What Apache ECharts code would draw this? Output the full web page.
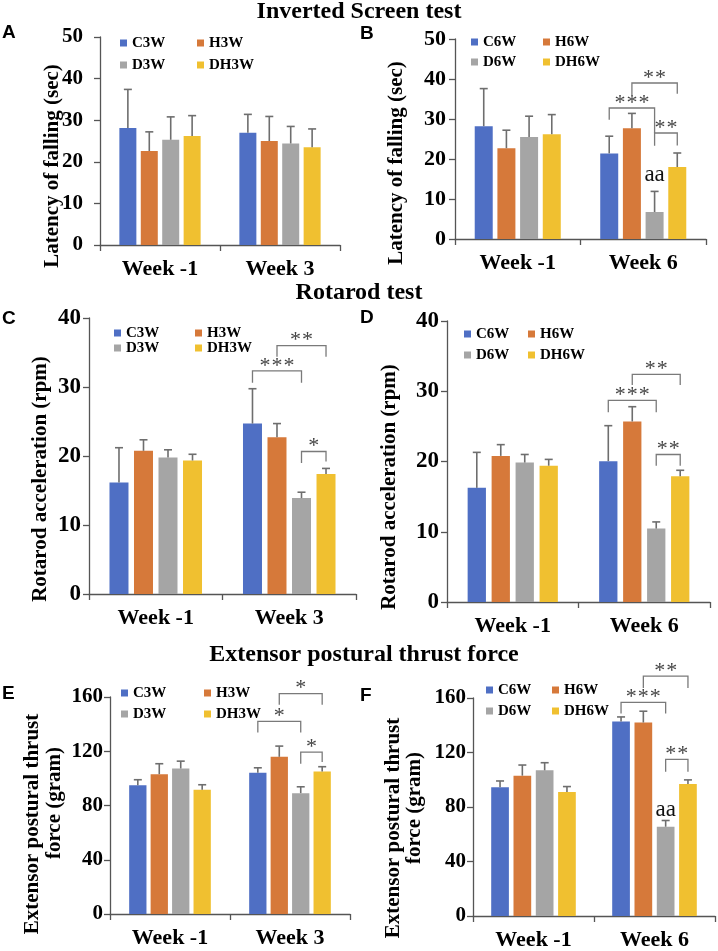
<!DOCTYPE html>
<html><head><meta charset="utf-8">
<script src="https://cdn.jsdelivr.net/npm/echarts@6/dist/echarts.min.js"></script>
<style>html,body{margin:0;padding:0;background:#fff}#main{width:718px;height:951px}</style>
</head><body><div id="main"></div>
<script>
// ---------- data ----------
const weeks3 = ['Week -1', 'Week 3'];
const weeks6 = ['Week -1', 'Week 6'];
const groups3 = ['C3W', 'H3W', 'D3W', 'DH3W'];
const groups6 = ['C6W', 'H6W', 'D6W', 'DH6W'];
const yTicksInv = [0, 10, 20, 30, 40, 50];
const yTicksRot = [0, 10, 20, 30, 40];
const yTicksExt = [0, 40, 80, 120, 160];

// A: Inverted screen, week -1 / week 3  (mean per group, SEM per group)
const A_mean = [[28.1, 27.0], [22.6, 25.0], [25.3, 24.4], [26.2, 23.5]];
const A_err  = [[9.3, 4.4], [4.6, 5.9], [5.5, 4.1], [4.9, 4.4]];
// B: Inverted screen, week -1 / week 6
const B_mean = [[28.2, 21.4], [22.7, 27.7], [25.5, 6.75], [26.2, 18.0]];
const B_err  = [[9.4, 4.3], [4.5, 3.7], [5.2, 5.15], [4.9, 3.5]];
// C: Rotarod, week -1 / week 3
const C_mean = [[16.15, 24.7], [20.75, 22.7], [19.8, 13.9], [19.35, 17.4]];
const C_err  = [[5.05, 5.05], [1.6, 2.0], [1.1, 0.85], [0.9, 0.8]];
// D: Rotarod, week -1 / week 6
const D_mean = [[16.25, 20.05], [20.8, 25.7], [19.85, 10.45], [19.4, 17.9]];
const D_err  = [[5.05, 5.05], [1.6, 2.1], [1.15, 0.95], [0.9, 0.85]];
// E: Extensor postural thrust, week -1 / week 3
const E_mean = [[95.0, 104.1], [103.1, 115.9], [107.3, 89.1], [91.6, 105.1]];
const E_err  = [[4.0, 3.7], [7.7, 7.9], [5.4, 4.7], [3.7, 3.5]];
// F: Extensor postural thrust, week -1 / week 6
const F_mean = [[94.5, 142.7], [103.0, 142.0], [106.9, 65.5], [91.1, 96.9]];
const F_err  = [[4.6, 3.4], [7.8, 8.3], [5.6, 4.6], [3.9, 3.0]];

// significance brackets: [category, fromGroup, toGroup, lineValue, leftLegValue, rightLegValue, stars]
const B_brk = [[1, 0, 2, 32.75, 29.8, 26.5, 3], [1, 1, 3, 39.0, 36.0, 36.3, 2], [1, 2, 3, 26.5, 23.3, 23.4, 2]];
const C_brk = [[1, 0, 2, 32.35, 30.6, 30.6, 3], [1, 1, 3, 36.0, 34.4, 34.4, 2], [1, 2, 3, 20.65, 19.0, 19.2, 1]];
const D_brk = [[1, 0, 2, 28.7, 27.0, 27.0, 3], [1, 1, 3, 32.4, 30.9, 30.9, 2], [1, 2, 3, 21.0, 19.4, 19.4, 2]];
const E_brk = [[1, 1, 3, 162.5, 154.3, 154.3, 1], [1, 0, 2, 142.0, 133.9, 133.9, 1], [1, 2, 3, 119.4, 110.8, 112.0, 1]];
const F_brk = [[1, 1, 3, 176.1, 167.3, 167.3, 2], [1, 0, 2, 156.8, 148.6, 148.6, 3], [1, 2, 3, 114.9, 105.9, 105.9, 2]];
// text marks: [category, group, value, text]
const B_marks = [[1, 2, 15.6, 'aa']];
const F_marks = [[1, 2, 76.5, 'aa']];

// ---------- styling / layout ----------
const colors = ['#4F6FC4', '#D6793A', '#A5A5A5', '#F0C030'];
const SERIF = '"Liberation Serif","Times New Roman",serif';
const panels = [
  {cats: weeks3, names: groups3, ticks: yTicksInv, mean: A_mean, err: A_err, brk: [], marks: [],
   grid: {left: 100, top: 37, width: 240, height: 208}, bw: 17, gap: 0.26, tf: 21, tm: 17,
   leg: [[120, 43], [197, 43], [120, 65], [197, 65]]},
  {cats: weeks6, names: groups6, ticks: yTicksInv, mean: B_mean, err: B_err, brk: B_brk, marks: B_marks,
   grid: {left: 455, top: 39, width: 251, height: 200}, bw: 18, gap: 0.26, tf: 22, tm: 9,
   leg: [[471, 42], [543, 42], [471, 62], [543, 62]]},
  {cats: weeks3, names: groups3, ticks: yTicksRot, mean: C_mean, err: C_err, brk: C_brk, marks: [],
   grid: {left: 89, top: 318, width: 267, height: 276}, bw: 19, gap: 0.29, tf: 23, tm: 8,
   leg: [[114, 333], [195, 333], [114, 348], [195, 348]]},
  {cats: weeks6, names: groups6, ticks: yTicksRot, mean: D_mean, err: D_err, brk: D_brk, marks: [],
   grid: {left: 447, top: 321, width: 263, height: 281}, bw: 18.3, gap: 0.31, tf: 23, tm: 8,
   leg: [[464, 334], [528, 334], [464, 355], [528, 355]]},
  {cats: weeks3, names: groups3, ticks: yTicksExt, mean: E_mean, err: E_err, brk: E_brk, marks: [],
   grid: {left: 110, top: 697, width: 240, height: 217}, bw: 17.3, gap: 0.24, tf: 21, tm: 7,
   leg: [[121, 693], [204, 693], [121, 714], [204, 714]]},
  {cats: weeks6, names: groups6, ticks: yTicksExt, mean: F_mean, err: F_err, brk: F_brk, marks: F_marks,
   grid: {left: 473, top: 698, width: 242, height: 219}, bw: 17.7, gap: 0.26, tf: 21, tm: 7,
   leg: [[486, 690], [552, 690], [486, 711], [552, 711]]}
];

function barCenter(api, cat, idx, p) {
  const w = p.bw, g = p.gap;
  const sum = 4 * w * (1 + g) - w * g;
  const base = api.coord([cat, 0])[0];
  return base - sum / 2 + idx * w * (1 + g) + w / 2;
}

const grids = [], xAxes = [], yAxes = [], series = [], legends = [];
const axisCol = '#555555';
panels.forEach((p, i) => {
  grids.push(Object.assign({}, p.grid));
  xAxes.push({
    type: 'category', gridIndex: i, data: p.cats,
    axisLine: {lineStyle: {color: axisCol, width: 1.3}},
    axisTick: {show: true, length: 6, lineStyle: {color: axisCol, width: 1.3}},
    axisLabel: {fontFamily: 'Liberation Serif', fontWeight: 'bold', fontSize: 22, color: '#000', margin: 13}
  });
  const tk = p.ticks;
  yAxes.push({
    type: 'value', gridIndex: i, min: tk[0], max: tk[tk.length - 1], interval: tk[1] - tk[0],
    axisLine: {show: true, lineStyle: {color: axisCol, width: 1.3}},
    axisTick: {show: true, length: 6, lineStyle: {color: axisCol, width: 1.3}},
    splitLine: {show: false},
    axisLabel: {fontFamily: 'Liberation Serif', fontWeight: 'bold', fontSize: p.tf, color: '#000', margin: p.tm}
  });
  p.names.forEach((nm, si) => {
    series.push({
      type: 'bar', name: nm, xAxisIndex: i, yAxisIndex: i, data: p.mean[si],
      barWidth: p.bw, barGap: (p.gap * 100) + '%', itemStyle: {color: colors[si]}, silent: true
    });
    legends.push({
      data: [nm], left: p.leg[si][0], top: p.leg[si][1] - 8, padding: 0,
      icon: 'rect', itemWidth: 7, itemHeight: 7, selectedMode: false,
      textStyle: {fontFamily: 'Liberation Serif', fontWeight: 'bold', fontSize: 15, lineHeight: 16, color: '#000'}
    });
  });
  // error bars
  const errData = [];
  p.mean.forEach((arr, si) => arr.forEach((m, ci) => errData.push([ci, si, m, m + p.err[si][ci]])));
  series.push({
    type: 'custom', xAxisIndex: i, yAxisIndex: i, data: errData, z: 3, silent: true,
    encode: {x: 0, y: 3},
    renderItem: (params, api) => {
      const cat = api.value(0), si = api.value(1);
      const x = barCenter(api, cat, si, p);
      const y0 = api.coord([cat, api.value(2)])[1];
      const y1 = api.coord([cat, api.value(3)])[1];
      const st = {stroke: '#6e6e6e', lineWidth: 1.6};
      return {type: 'group', children: [
        {type: 'line', shape: {x1: x, y1: y0, x2: x, y2: y1}, style: st},
        {type: 'line', shape: {x1: x - 4, y1: y1, x2: x + 4, y2: y1}, style: st}
      ]};
    }
  });
  // brackets
  if (p.brk.length) {
    series.push({
      type: 'custom', xAxisIndex: i, yAxisIndex: i, data: p.brk, z: 4, silent: true, clip: false,
      encode: {x: 0, y: 3},
      renderItem: (params, api) => {
        const cat = api.value(0);
        const xl = barCenter(api, cat, api.value(1), p), xr = barCenter(api, cat, api.value(2), p);
        const yL = api.coord([cat, api.value(3)])[1];
        const ya = api.coord([cat, api.value(4)])[1];
        const yb = api.coord([cat, api.value(5)])[1];
        const n = api.value(6);
        const children = [{type: 'polyline', shape: {points: [[xl, ya], [xl, yL], [xr, yL], [xr, yb]]},
          style: {stroke: '#7a7a7a', lineWidth: 1.3, fill: null}}];
        const cx = (xl + xr) / 2;
        for (let k = 0; k < n; k++) {
          children.push({type: 'text', x: cx + (k - (n - 1) / 2) * 12, y: yL - 5,
            style: {text: '*', align: 'center', verticalAlign: 'middle', font: '22px ' + SERIF, fill: '#444'}});
        }
        return {type: 'group', children};
      }
    });
  }
  if (p.marks.length) {
    series.push({
      type: 'custom', xAxisIndex: i, yAxisIndex: i, data: p.marks.map(m => [m[0], m[1], m[2]]),
      z: 4, silent: true, encode: {x: 0, y: 2},
      renderItem: (params, api) => {
        const cat = api.value(0);
        const x = barCenter(api, cat, api.value(1), p);
        const y = api.coord([cat, api.value(2)])[1];
        return {type: 'text', x: x, y: y - 2,
          style: {text: p.marks[params.dataIndex][3], align: 'center', verticalAlign: 'middle',
                  font: '23px ' + SERIF, fill: '#111'}};
      }
    });
  }
});

function txt(x, y, text, font, rot, align) {
  return {type: 'text', x: x, y: y, rotation: rot || 0, silent: true,
    style: {text: text, font: font, fill: '#000', align: align || 'center', verticalAlign: 'middle'}};
}
const TF = 'bold 24px ' + SERIF;
const NF = 'bold 21px ' + SERIF;
const LF = 'bold 19px "Liberation Sans",Arial,sans-serif';
const R = Math.PI / 2;
const graphics = [
  txt(359, 12, 'Inverted Screen test', TF),
  txt(359, 293, 'Rotarod test', TF),
  txt(364, 655, 'Extensor postural thrust force', TF),
  txt(2, 33, 'A', LF, 0, 'left'), txt(360, 34, 'B', LF, 0, 'left'),
  txt(2, 319, 'C', LF, 0, 'left'), txt(360, 318, 'D', LF, 0, 'left'),
  txt(2, 694, 'E', LF, 0, 'left'), txt(360, 696, 'F', LF, 0, 'left'),
  txt(53, 166, 'Latency of falling (sec)', NF, R),
  txt(397, 163, 'Latency of falling (sec)', NF, R),
  txt(41, 479, 'Rotarod acceleration (rpm)', NF, R),
  txt(390, 487, 'Rotarod acceleration (rpm)', NF, R),
  txt(33, 824, 'Extensor postural thrust', NF, R),
  txt(55, 803, 'force (gram)', NF, R),
  txt(394, 828, 'Extensor postural thrust', NF, R),
  txt(415, 808, 'force (gram)', NF, R)
];

const chart = echarts.init(document.getElementById('main'));
chart.setOption({
  animation: false,
  backgroundColor: '#fff',
  grid: grids, xAxis: xAxes, yAxis: yAxes, series: series, legend: legends,
  graphic: graphics
});
</script></body></html>
